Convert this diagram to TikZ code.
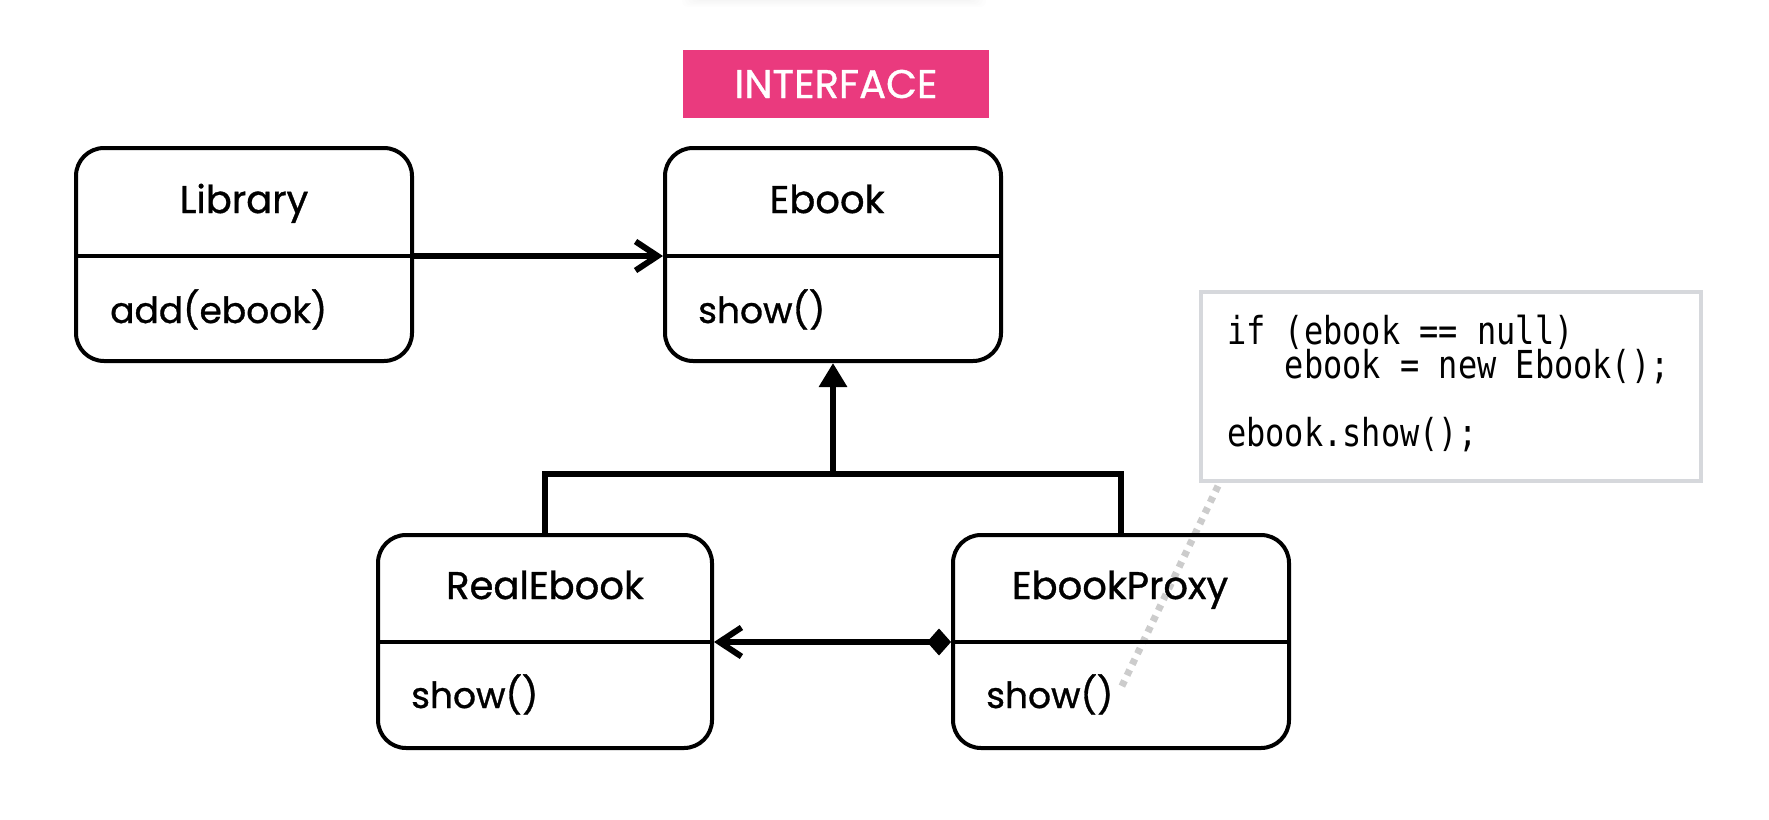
\documentclass[tikz,border=0pt]{standalone}
\usepackage{fontspec}
\setmainfont{Poppins}
\newfontfamily\medfont[FakeBold=0.9]{Poppins}
\newfontfamily\codefont[FakeStretch=0.83]{DejaVu Sans Mono}
\usetikzlibrary{arrows.meta}
\definecolor{ifacepink}{RGB}{234,58,126}
\definecolor{codeborder}{RGB}{214,216,220}
\definecolor{dotgray}{RGB}{204,204,204}
\tikzset{
  classbox/.style={draw, line width=4pt, rounded corners=28pt, inner sep=0pt},
  ctitle/.style={anchor=base, inner sep=0pt, font=\medfont\fontsize{38.5}{42}\selectfont},
  cmember/.style={anchor=base west, inner sep=0pt, font=\medfont\fontsize{36}{40}\selectfont},
  divider/.style={line width=3.8pt},
  conn/.style={line width=6.5pt, line join=miter},
  barb/.style={-{Straight Barb[length=22pt,width=29pt,line width=6pt]}},
  codebox/.style={draw=codeborder, fill=white, line width=4pt, inner sep=0pt},
  codeline/.style={anchor=base west, inner sep=0pt, font=\codefont\fontsize{38.5}{40}\selectfont},
  dotline/.style={draw=dotgray, line width=7pt, dash pattern=on 6pt off 6pt},
  iface/.style={fill=ifacepink, text=white, inner sep=0pt, font=\medfont\fontsize{40}{44}\selectfont}
}
\begin{document}
\begin{tikzpicture}[x=1pt,y=-1pt]
\useasboundingbox (0,0) rectangle (1769,819);
\fill[white] (0,0) rectangle (1769,819);
% faint shadow at top
\foreach \i in {0,...,4}
  \fill[black, opacity=0.007, rounded corners=6pt] (694-3*\i,-40) rectangle (974+3*\i,1+1.5*\i);

% interface label
\node[iface, minimum width=306pt, minimum height=68pt] (iface) at (836,84) {INTERFACE};

% code note
\node[codebox, minimum width=500pt, minimum height=189pt] (code) at (1451,386.5) {};
\node[codeline] (c1) at (1227,344) {if (ebook == null)};
\node[codeline] (c2) at (1227,378) {\hphantom{xxx}ebook = new Ebook();};
\node[codeline] (c3) at (1227,446) {ebook.show();};

% dotted note connector
\coordinate (dotend) at (1120,690);
\draw[dotline] ([xshift=19pt,yshift=-3pt]code.south west) -- (dotend);

% classes
\node[classbox, minimum width=336pt, minimum height=213pt] (lib) at (244,254.5) {};
\node[classbox, minimum width=336pt, minimum height=213pt] (ebook) at (833,254.5) {};
\node[classbox, minimum width=334pt, minimum height=213pt] (real) at (545,641.5) {};
\node[classbox, minimum width=336pt, minimum height=213pt] (proxy) at (1121,641.5) {};

\draw[divider] ([yshift=-1.5pt]lib.west) -- ([yshift=-1.5pt]lib.east);
\draw[divider] ([yshift=-1.5pt]ebook.west) -- ([yshift=-1.5pt]ebook.east);
\draw[divider] ([yshift=-0.5pt]real.west) -- ([yshift=-0.5pt]real.east);
\draw[divider] ([yshift=-0.5pt]proxy.west) -- ([yshift=-0.5pt]proxy.east);

\node[ctitle] (libT) at (244,213) {Library};
\node[ctitle] (ebookT) at (827,213) {Ebook};
\node[ctitle] (realT) at (545,599) {RealEbook};
\node[ctitle] (proxyT) at (1120,599) {EbookProxy};

\node[cmember] (libM) at (110,323) {add(ebook)};
\node[cmember] (ebookM) at (698,323) {show()};
\node[cmember] (realM) at (411,708) {show()};
\node[cmember] (proxyM) at (986,708) {show()};

% connectors
\draw[conn, barb] ([yshift=-1.5pt]lib.east) -- ([yshift=-1.5pt]ebook.west);

\coordinate (bar) at (833,474);
\draw[conn] (real.north) |- (bar) -| (proxy.north);
\draw[conn, -{Triangle[length=24pt,width=27pt]}] (bar) -- (ebook.south);

\draw[conn, {Diamond[length=24pt,width=27pt]}-{Straight Barb[length=22pt,width=29pt,line width=6pt]}]
  ([yshift=-0.5pt]proxy.west) -- ([yshift=-0.5pt]real.east);
\end{tikzpicture}
\end{document}
